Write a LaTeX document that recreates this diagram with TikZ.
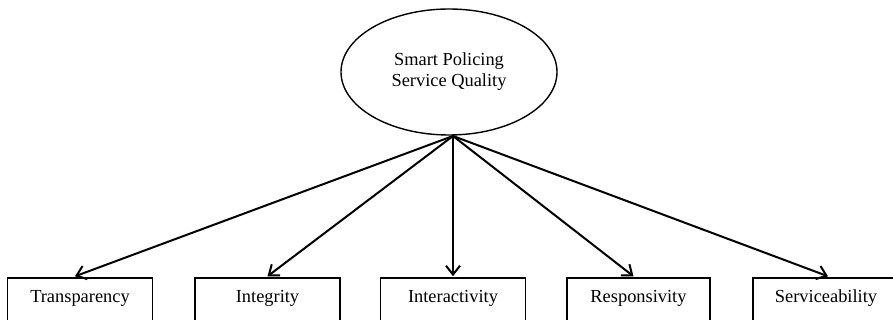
\documentclass[tikz,border=0pt]{standalone}
\usepackage{fontspec}
\setmainfont{Liberation Serif}
\usetikzlibrary{arrows.meta,calc,shapes.geometric}
\begin{document}
\begin{tikzpicture}[x=1pt,y=-1pt,
  latent/.style={draw, line width=1.4pt, ellipse, minimum width=216pt, minimum height=126pt, inner sep=0pt, font=\fontsize{18.4}{20.5}\selectfont},
  obsbox/.style={draw, line width=1.4pt, rectangle, minimum width=145pt, text height=24pt, text depth=22pt, inner sep=0pt, font=\fontsize{18.4}{20.5}\selectfont},
  link/.style={line width=2pt, -{Straight Barb[length=9pt,width=14pt,line width=2pt]}}]
\useasboundingbox (0,0) rectangle (893,320);
\clip (0,0) rectangle (893,320);
\node[latent] (sq) at (449,72) {\raisebox{5pt}{\begin{tabular}{@{}c@{}}Smart Policing\\Service Quality\end{tabular}}};
\coordinate (src) at (453,136);
\node[obsbox, anchor=base] (t1) at (80,302) {Transparency};
\node[obsbox, anchor=base] (t2) at (267.5,302) {Integrity};
\node[obsbox, anchor=base] (t3) at (453,302) {Interactivity};
\node[obsbox, anchor=base, minimum width=143pt] (t4) at (638.5,302) {Responsivity};
\node[obsbox, anchor=base, minimum width=146pt] (t5) at (826,302) {Serviceability};
\draw[link] (src) -- ($(t1.north)+(-5,-1)$);
\draw[link] (src) -- ($(t2.north)+(0,-1)$);
\draw[link] (src) -- ($(t3.north)+(0,-1)$);
\draw[link] (src) -- ($(t4.north)+(-5,-1)$);
\draw[link] (src) -- ($(t5.north)+(2,-1)$);
\end{tikzpicture}
\end{document}
